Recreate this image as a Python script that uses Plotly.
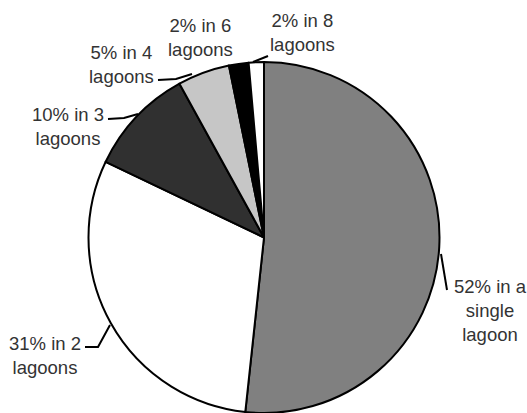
import plotly.graph_objects as go

# Data (share of species by number of lagoons)
categories = ["a single lagoon", "2 lagoons", "3 lagoons", "4 lagoons", "6 lagoons", "8 lagoons"]
values = [51.7, 30.4, 9.9, 4.8, 1.8, 1.4]
label_pct = ["52%", "31%", "10%", "5%", "2%", "2%"]
colors = ["#808080", "#ffffff", "#303030", "#c6c6c6", "#000000", "#ffffff"]

W, H = 527, 413

fig = go.Figure(go.Pie(
    labels=categories,
    values=values,
    sort=False,
    direction="clockwise",
    rotation=0,
    marker=dict(colors=colors, line=dict(color="#000000", width=2)),
    textinfo="none",
    hoverinfo="label+percent",
    domain=dict(x=[88 / W, 440 / W], y=[0, 1 - 62 / H]),
    showlegend=False,
))

# label texts and their positions (pixel centers), leader lines (pixel polylines)
label_text = [
    "52% in a<br>single<br>lagoon",
    "31% in 2<br>lagoons",
    "10% in 3<br>lagoons",
    "5% in 4<br>lagoons",
    "2% in 6<br>lagoons",
    "2% in 8<br>lagoons",
]
label_pos = [(490, 310), (45, 355), (68, 126), (121, 64), (200, 38), (302, 32)]
leaders = [
    [(441, 254), (447, 290)],
    [(85, 347), (98, 347), (110, 325)],
    [(108, 119), (124, 118), (138, 114)],
    [(158, 80), (176, 79), (192, 74)],
    None,
    [(253, 62), (268, 56)],
]

def px(x, y):
    return x / W, 1 - y / H

for txt, (cx, cy) in zip(label_text, label_pos):
    ax, ay = px(cx, cy)
    fig.add_annotation(
        x=ax, y=ay, xref="paper", yref="paper",
        text=txt, showarrow=False, align="center",
        xanchor="center", yanchor="middle",
        font=dict(family="Liberation Sans, Arial, sans-serif", size=18.5, color="#333333"),
    )

for pts in leaders:
    if not pts:
        continue
    path = ""
    for i, (x, y) in enumerate(pts):
        a, b = px(x, y)
        path += ("M" if i == 0 else " L") + f" {a:.5f},{b:.5f}"
    fig.add_shape(type="path", path=path, xref="paper", yref="paper",
                  line=dict(color="#000000", width=2))

fig.update_layout(
    width=W, height=H,
    margin=dict(l=0, r=0, t=0, b=0),
    paper_bgcolor="#ffffff",
    plot_bgcolor="#ffffff",
)

fig.write_html(
    "out.html",
    config={"displayModeBar": False},
    post_script="document.body.style.margin='0';document.body.style.overflow='hidden';",
)
